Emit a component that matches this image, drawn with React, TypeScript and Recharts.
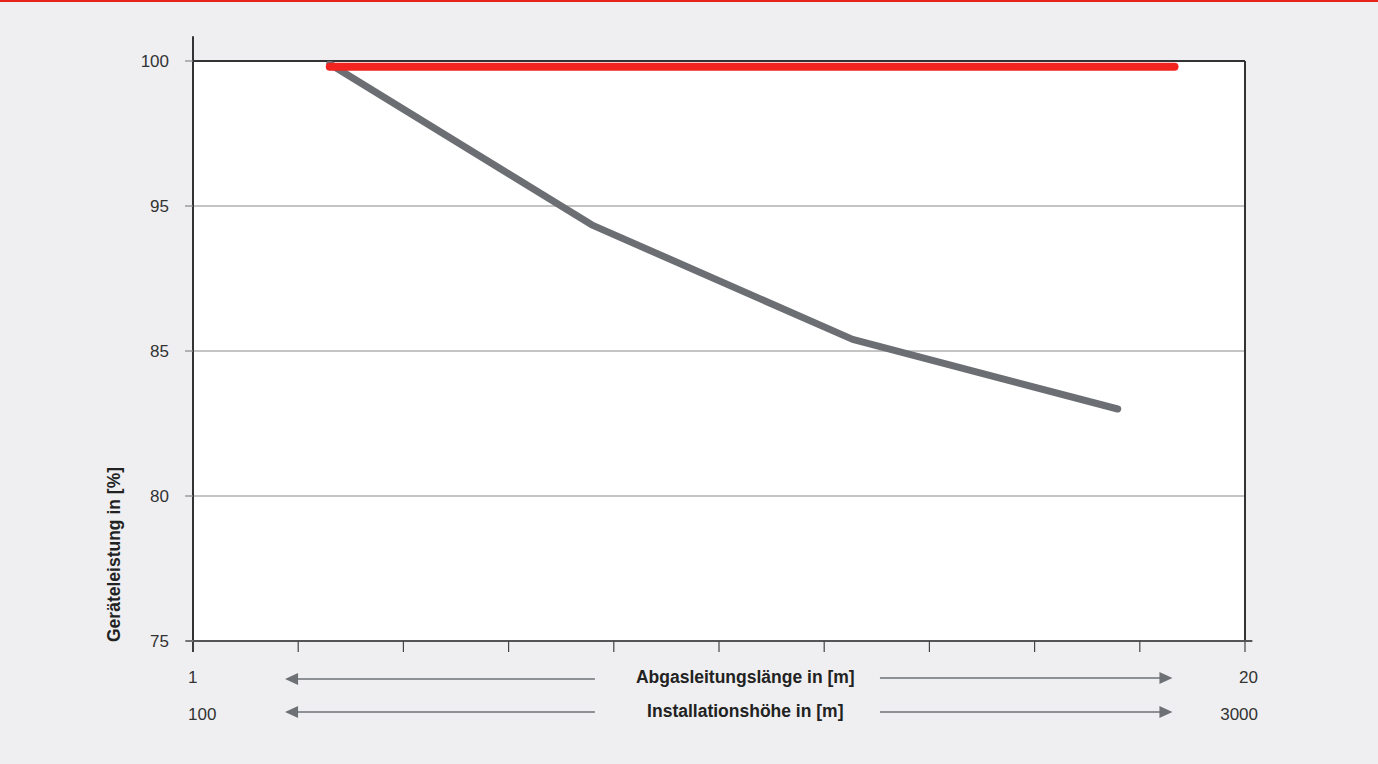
import React from "react";
import { LineChart, Line, XAxis, YAxis, CartesianGrid, ReferenceLine } from "recharts";

// Y tick labels (evenly spaced on the axis, as in the reference)
const yTickLabels = [75, 80, 85, 95, 100];
// X axis: 10 equal intervals
const xTicks = [0, 1, 2, 3, 4, 5, 6, 7, 8, 9, 10];
const xRangeLabelsTop = ["1", "20"];
const xRangeLabelsBottom = ["100", "3000"];
const xTitleTop = "Abgasleitungslänge in [m]";
const xTitleBottom = "Installationshöhe in [m]";
const yTitle = "Geräteleistung in [%]";

// Series values (x in axis units, y in percent)
const redX = [1.3, 9.33];
const redY = [99.8, 99.8];
const grayX = [1.3, 3.79, 6.27, 8.79];
const grayY = [99.9, 93.7, 85.8, 83.0];

// piecewise mapping from percent value to evenly spaced axis position
const toAxis = (v: number) => {
  for (let i = 0; i < yTickLabels.length - 1; i++) {
    const a = yTickLabels[i];
    const b = yTickLabels[i + 1];
    if (v >= a && v <= b) return i + (v - a) / (b - a);
  }
  return v < yTickLabels[0] ? 0 : yTickLabels.length - 1;
};

const redData = redX.map((x, i) => ({ x, y: toAxis(redY[i]) }));
const grayData = grayX.map((x, i) => ({ x, y: toAxis(grayY[i]) }));
const yTicks = yTickLabels.map((_, i) => i);

const FONT = "'Liberation Sans', Arial, sans-serif";
const ARROW = "#6d7074";

const YLabel = (props: any) => {
  const vb = props.viewBox || { x: 0, y: 0, width: 0, height: 0 };
  const tx = vb.x - 13;
  const ty = vb.y + vb.height + 1;
  return (
    <text
      x={tx}
      y={ty}
      transform={`rotate(-90, ${tx}, ${ty})`}
      textAnchor="start"
      fontFamily={FONT}
      fontWeight="bold"
      fontSize={17.5}
      fill="#222"
    >
      {yTitle}
    </text>
  );
};

const Arrow = ({ x1, x2, y, dir }: { x1: number; x2: number; y: number; dir: "left" | "right" }) => {
  const head = 13;
  const hh = 6;
  if (dir === "left") {
    return (
      <g>
        <line x1={x1 + head - 1} x2={x2} y1={y} y2={y} stroke={ARROW} strokeWidth={1.6} />
        <polygon points={`${x1},${y} ${x1 + head},${y - hh} ${x1 + head},${y + hh}`} fill={ARROW} />
      </g>
    );
  }
  return (
    <g>
      <line x1={x1} x2={x2 - head + 1} y1={y} y2={y} stroke={ARROW} strokeWidth={1.6} />
      <polygon points={`${x2},${y} ${x2 - head},${y - hh} ${x2 - head},${y + hh}`} fill={ARROW} />
    </g>
  );
};

const XLabels = (props: any) => {
  const vb = props.viewBox || { x: 0, y: 0, width: 0, height: 0 };
  const { x, y, width } = vb;
  const r1 = y + 38;
  const r2 = y + 71;
  const cx = x + width * 0.525;
  const lA = x + width * 0.0875;
  const lB = x + width * 0.382;
  const rA = x + width * 0.653;
  const rB = x + width * 0.931;
  return (
    <g fontFamily={FONT}>
      <text x={x - 5} y={r1 + 4} fontSize={17} fill="#333" textAnchor="start">{xRangeLabelsTop[0]}</text>
      <text x={x + width + 13} y={r1 + 4} fontSize={17} fill="#333" textAnchor="end">{xRangeLabelsTop[1]}</text>
      <text x={x - 5} y={r2 + 8} fontSize={17} fill="#333" textAnchor="start">{xRangeLabelsBottom[0]}</text>
      <text x={x + width + 13} y={r2 + 8} fontSize={17} fill="#333" textAnchor="end">{xRangeLabelsBottom[1]}</text>
      <text x={cx} y={r1 + 4} fontSize={17.5} fontWeight="bold" fill="#222" textAnchor="middle">{xTitleTop}</text>
      <text x={cx} y={r2 + 5} fontSize={17.5} fontWeight="bold" fill="#222" textAnchor="middle">{xTitleBottom}</text>
      <Arrow x1={lA} x2={lB} y={r1} dir="left" />
      <Arrow x1={rA} x2={rB} y={r1 - 1} dir="right" />
      <Arrow x1={lA} x2={lB} y={r2} dir="left" />
      <Arrow x1={rA} x2={rB} y={r2} dir="right" />
    </g>
  );
};

export default function App() {
  return (
    <div
      style={{
        position: "absolute",
        left: 0,
        top: 0,
        width: 1378,
        height: 764,
        background: "#efeff1",
        overflow: "hidden",
      }}
    >
      <div style={{ position: "absolute", left: 0, top: 0, width: 1378, height: 2, background: "#e8231c" }} />
      <LineChart
        width={1378}
        height={764}
        margin={{ top: 61, right: 133, bottom: 93, left: 133 }}
      >
        <CartesianGrid vertical={false} fill="#ffffff" stroke="#8a8a8a" strokeWidth={1} />
        <XAxis
          type="number"
          dataKey="x"
          domain={[0, 10]}
          ticks={xTicks}
          allowDataOverflow
          height={30}
          axisLine={false}
          tickLine={{ stroke: "#444", strokeWidth: 1.2 }}
          tickSize={11}
          tickFormatter={() => ""}
          label={<XLabels />}
        />
        <YAxis
          type="number"
          dataKey="y"
          domain={[0, 4]}
          ticks={yTicks}
          allowDataOverflow
          width={60}
          axisLine={false}
          tickLine={{ stroke: "#888", strokeWidth: 1.2 }}
          tickSize={8}
          tickMargin={16}
          tickFormatter={(v: number) => String(yTickLabels[v])}
          tick={{ fontFamily: FONT, fontSize: 17, fill: "#333" }}
          label={<YLabel />}
        />
        <ReferenceLine y={4} stroke="#333" strokeWidth={2} ifOverflow="visible" />
        <ReferenceLine x={10} stroke="#333" strokeWidth={2} ifOverflow="visible" />
        <ReferenceLine
          segment={[{ x: 0, y: -0.075 }, { x: 0, y: 4.17 }]}
          stroke="#333"
          strokeWidth={2}
          ifOverflow="visible"
        />
        <ReferenceLine
          segment={[{ x: -0.07, y: 0 }, { x: 10.07, y: 0 }]}
          stroke="#555"
          strokeWidth={2}
          ifOverflow="visible"
        />
        <Line
          data={grayData}
          dataKey="y"
          type="linear"
          stroke="#6b6e73"
          strokeWidth={7}
          strokeLinecap="round"
          strokeLinejoin="round"
          dot={false}
          activeDot={false}
          isAnimationActive={false}
        />
        <Line
          data={redData}
          dataKey="y"
          type="linear"
          stroke="#f2241f"
          strokeWidth={8}
          strokeLinecap="round"
          dot={false}
          activeDot={false}
          isAnimationActive={false}
        />
      </LineChart>
    </div>
  );
}
